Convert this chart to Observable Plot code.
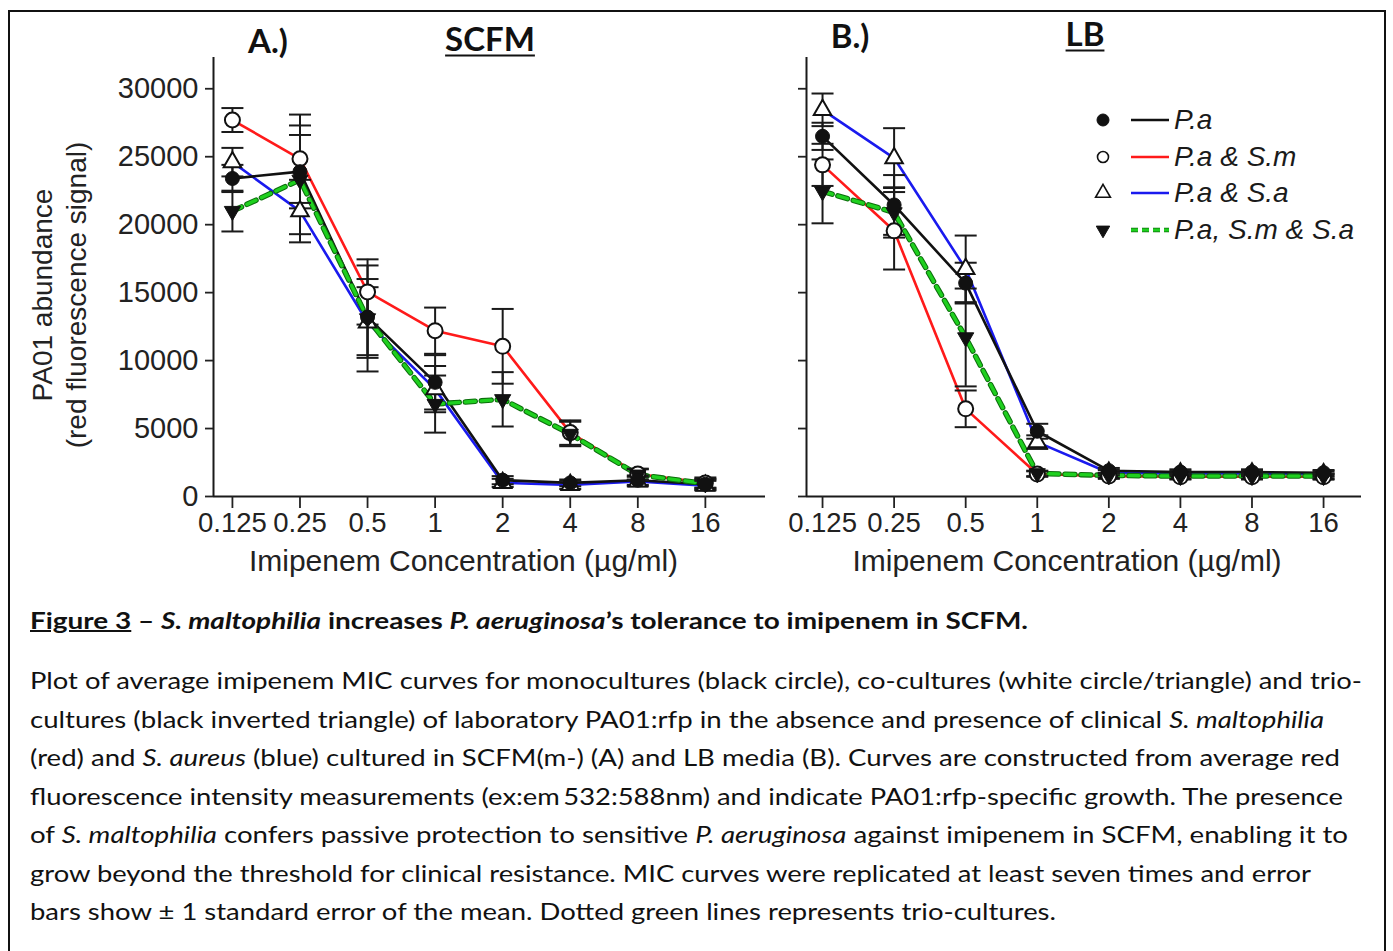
<!DOCTYPE html>
<html lang="en">
<head>
<meta charset="utf-8">
<title>Figure 3 – imipenem MIC curves</title>
<script src="https://cdn.jsdelivr.net/npm/d3@7"></script>
<script src="https://cdn.jsdelivr.net/npm/@observablehq/plot@0.6"></script>
<style>
  html, body { margin: 0; padding: 0; background: #fff; }
  body { position: relative; width: 1393px; height: 951px; overflow: hidden; font-family: "Liberation Sans", Arial, sans-serif; color: #111; }
  #frame { position: absolute; left: 8px; top: 10px; width: 1378px; height: 1000px; border: 2px solid #111; box-sizing: border-box; }
  .panel { position: absolute; top: 0; }
  .panel svg { overflow: visible; }
  .ptitle { position: absolute; transform: translate(-50%, -50%); font-family: Lato, "Open Sans", sans-serif; font-weight: 700; font-size: 33px; white-space: nowrap; line-height: 1; }
  .ptitle.u { text-decoration: underline; text-decoration-thickness: 2px; text-underline-offset: 4px; }
  #legend { position: absolute; left: 1090px; top: 101.6px; }
  .lrow { display: flex; align-items: center; height: 36.7px; }
  .lrow span { font-style: italic; font-size: 28px; margin-left: 2px; white-space: nowrap; color: #1a1a1a; }
  .cap { position: absolute; left: 30px; white-space: nowrap; font-family: Lato, "Open Sans", sans-serif; font-size: 23.5px; line-height: 1; transform-origin: 0 50%; }
  .cap.title { font-weight: 700; }
  .cap.title .u { text-decoration: underline; text-decoration-thickness: 1.5px; }
</style>
</head>
<body>
<div id="frame"></div>
<div id="panelA" class="panel" style="left:0"></div>
<div id="panelB" class="panel" style="left:790px"></div>

<div class="ptitle" style="left:268px;top:40px">A.)</div>
<div class="ptitle u" style="left:490px;top:38px">SCFM</div>
<div class="ptitle" style="left:850px;top:35px">B.)</div>
<div class="ptitle u" style="left:1085px;top:33px">LB</div>

<div id="legend"></div>

<div class="cap title fit" data-w="998" style="top:609px"><span class="u">Figure 3</span> – <i>S. maltophilia</i> increases <i>P. aeruginosa</i>’s tolerance to imipenem in SCFM.</div>
<div class="cap fit" data-w="1332" style="top:669px">Plot of average imipenem MIC curves for monocultures (black circle), co-cultures (white circle/triangle) and trio-</div>
<div class="cap fit" data-w="1294" style="top:708px">cultures (black inverted triangle) of laboratory PA01:rfp in the absence and presence of clinical <i>S. maltophilia</i></div>
<div class="cap fit" data-w="1310" style="top:746px">(red) and <i>S. aureus</i> (blue) cultured in SCFM(m-) (A) and LB media (B). Curves are constructed from average red</div>
<div class="cap fit" data-w="1313" style="top:785px">fluorescence intensity measurements (ex:em&#8201;532:588nm) and indicate PA01:rfp-specific growth. The presence</div>
<div class="cap fit" data-w="1318" style="top:823px">of <i>S. maltophilia</i> confers passive protection to sensitive <i>P. aeruginosa</i> against imipenem in SCFM, enabling it to</div>
<div class="cap fit" data-w="1281" style="top:862px">grow beyond the threshold for clinical resistance. MIC curves were replicated at least seven times and error</div>
<div class="cap fit" data-w="1026" style="top:900px">bars show ± 1 standard error of the mean. Dotted green lines represents trio-cultures.</div>

<script>
// Imipenem concentrations (µg/ml) and axis ticks
const conc = [0.125, 0.25, 0.5, 1, 2, 4, 8, 16];
const concLabels = ["0.125", "0.25", "0.5", "1", "2", "4", "8", "16"];
const abundanceTicks = [0, 5000, 10000, 15000, 20000, 25000, 30000];
const seriesNames = ["P.a", "P.a & S.m", "P.a & S.a", "P.a, S.m & S.a"];

// A.) SCFM – mean PA01 red fluorescence signal
const scfmPa      = [23400, 23900, 13200, 8400, 1200, 1000, 1200, 900];
const scfmPaSm    = [27700, 24850, 15050, 12200, 11050, 4700, 1650, 1000];
const scfmPaSa    = [24600, 21000, 12800, 7900, 1000, 850, 1100, 800];
const scfmTrio    = [21000, 23300, 13100, 6800, 7150, 4600, 1600, 950];
// A.) SCFM – ±1 standard error
const scfmPaSe    = [1000, 2700, 2800, 2000, 300, 250, 350, 400];
const scfmPaSmSe  = [880, 3250, 2400, 1700, 2750, 900, 400, 400];
const scfmPaSaSe  = [1050, 2300, 2600, 1700, 300, 300, 350, 350];
const scfmTrioSe  = [1500, 4000, 3900, 2100, 2000, 900, 400, 300];

// B.) LB – mean PA01 red fluorescence signal
const lbPa        = [26500, 21450, 15700, 4800, 1900, 1800, 1800, 1750];
const lbPaSm      = [24400, 19550, 6450, 1650, 1500, 1450, 1450, 1450];
const lbPaSa      = [28450, 24900, 16750, 4000, 1750, 1700, 1700, 1650];
const lbTrio      = [22450, 20900, 11700, 1700, 1550, 1500, 1500, 1500];
// B.) LB – ±1 standard error
const lbPaSe      = [1000, 2200, 1500, 550, 200, 200, 200, 200];
const lbPaSmSe    = [1550, 2850, 1350, 200, 200, 200, 200, 200];
const lbPaSaSe    = [1200, 2200, 2450, 500, 200, 200, 200, 200];
const lbTrioSe    = [2350, 1850, 3600, 200, 200, 200, 200, 200];

const seriesColor = {"P.a": "#111111", "P.a & S.m": "#ff1a1a", "P.a & S.a": "#1a1aee", "P.a, S.m & S.a": "#1fd01f"};

function tidy(means, sems) {
  return seriesNames.flatMap((series, k) =>
    conc.map((c, i) => ({series, conc: c, y: means[k][i], se: sems[k][i]})));
}
const scfmData = tidy([scfmPa, scfmPaSm, scfmPaSa, scfmTrio], [scfmPaSe, scfmPaSmSe, scfmPaSaSe, scfmTrioSe]);
const lbData = tidy([lbPa, lbPaSm, lbPaSa, lbTrio], [lbPaSe, lbPaSmSe, lbPaSaSe, lbTrioSe]);

// Custom symbols: downward triangle and a horizontal error-bar cap
const sqrt3 = Math.sqrt(3);
const triangleDown = {
  draw(context, size) {
    const y = Math.sqrt(size / (sqrt3 * 3));
    context.moveTo(0, 2 * y);
    context.lineTo(sqrt3 * y, -y);
    context.lineTo(-sqrt3 * y, -y);
    context.closePath();
  }
};
const capLine = {
  draw(context, size) {
    const r = Math.sqrt(size / Math.PI);
    context.moveTo(-r, 0);
    context.lineTo(r, 0);
  }
};

const markerStyle = {
  "P.a & S.a":      {symbol: "triangle", fill: "#fff", stroke: "#111", strokeWidth: 2, r: 6.5},
  "P.a & S.m":      {symbol: "circle", fill: "#fff", stroke: "#111", strokeWidth: 2, r: 7.5},
  "P.a, S.m & S.a": {symbol: triangleDown, fill: "#111", stroke: "#111", strokeWidth: 1, r: 6},
  "P.a":            {symbol: "circle", fill: "#111", stroke: "#111", strokeWidth: 1, r: 7}
};

function panel(data, opts) {
  const bySeries = (s) => data.filter((d) => d.series === s);
  const trio = bySeries("P.a, S.m & S.a");
  const xDomain = [conc[0] / 2 ** opts.padLo, conc[conc.length - 1] * 2 ** opts.padHi];
  const marks = [
    // axis lines
    Plot.ruleY([0], {stroke: "#1a1a1a", strokeWidth: 2}),
    Plot.ruleX([xDomain[0]], {stroke: "#1a1a1a", strokeWidth: 2}),
    Plot.axisX({ticks: conc, tickFormat: (d) => concLabels[conc.indexOf(d)], tickSize: 12, tickPadding: 4,
                strokeWidth: 1.8, color: "#222", fontSize: 27.5, label: null}),
    Plot.axisY({ticks: abundanceTicks, tickFormat: opts.yLabels ? (d) => String(d) : () => "",
                tickSize: 8, tickPadding: 7, strokeWidth: 1.8, color: "#222", label: null}),
    // curves
    ...["P.a & S.m", "P.a & S.a", "P.a"].map((s) =>
      Plot.line(bySeries(s), {x: "conc", y: "y", stroke: seriesColor[s], strokeWidth: 2.6})),
    Plot.line(trio, {x: "conc", y: "y", stroke: "#0c6e0c", strokeWidth: 5.5, strokeDasharray: "10,6"}),
    Plot.line(trio, {x: "conc", y: "y", stroke: seriesColor["P.a, S.m & S.a"], strokeWidth: 3.4, strokeDasharray: "10,6"}),
    // ±1 SEM error bars
    Plot.ruleX(data, {x: "conc", y1: (d) => d.y - d.se, y2: (d) => d.y + d.se, stroke: "#1a1a1a", strokeWidth: 2}),
    Plot.dot(data, {x: "conc", y: (d) => d.y + d.se, symbol: capLine, r: 11, fill: "none", stroke: "#1a1a1a", strokeWidth: 2}),
    Plot.dot(data, {x: "conc", y: (d) => d.y - d.se, symbol: capLine, r: 11, fill: "none", stroke: "#1a1a1a", strokeWidth: 2}),
    // markers
    ...Object.entries(markerStyle).map(([s, st]) => Plot.dot(bySeries(s), {x: "conc", y: "y", ...st})),
    // x-axis title
    Plot.text(["Imipenem Concentration (µg/ml)"], {frameAnchor: "bottom", lineAnchor: "middle", dx: opts.xTitleDx, dy: 65,
                fontSize: 30, fill: "#222"})
  ];
  if (opts.yTitle) {
    marks.push(Plot.text([opts.yTitle], {frameAnchor: "left", textAnchor: "middle", lineAnchor: "middle", rotate: -90,
                dx: -155.5, dy: 18, lineHeight: 1.22, fontSize: 28, fill: "#222"}));
  }
  return Plot.plot({
    width: opts.width, height: 590,
    marginLeft: opts.marginLeft, marginRight: opts.marginRight, marginTop: 57, marginBottom: 94,
    style: {fontFamily: "'Liberation Sans', Arial, sans-serif", fontSize: "29px", background: "transparent", overflow: "visible"},
    x: {type: "log", base: 2, domain: xDomain},
    y: {domain: [0, 32300]},
    marks
  });
}

document.getElementById("panelA").append(panel(scfmData, {
  width: 790, marginLeft: 213, marginRight: 25, padLo: 0.28, padHi: 0.89, yLabels: true,
  xTitleDx: -26, yTitle: "PA01 abundance\n(red fluorescence signal)"
}));
document.getElementById("panelB").append(panel(lbData, {
  width: 603, marginLeft: 16, marginRight: 32, padLo: 0.224, padHi: 0.53, yLabels: false,
  xTitleDx: -17
}));

// Legend: marker, line sample and italic series name
const legend = d3.select("#legend");
seriesNames.forEach((s) => {
  const row = legend.append("div").attr("class", "lrow");
  const svg = row.append("svg").attr("width", 82).attr("height", 36);
  const st = markerStyle[s];
  const sym = typeof st.symbol === "string"
    ? (st.symbol === "circle" ? d3.symbolCircle : d3.symbolTriangle) : st.symbol;
  const r = s === "P.a" ? 6 : s === "P.a & S.m" ? 5.5 : s === "P.a & S.a" ? 5.5 : 5;
  svg.append("path")
    .attr("transform", "translate(13,18)")
    .attr("d", d3.symbol(sym, Math.PI * r * r)())
    .attr("fill", st.fill).attr("stroke", st.stroke).attr("stroke-width", s === "P.a & S.m" || s === "P.a & S.a" ? 1.6 : 1);
  if (s === "P.a, S.m & S.a") {
    svg.append("line").attr("x1", 41).attr("x2", 79).attr("y1", 18).attr("y2", 18)
      .attr("stroke", "#0c6e0c").attr("stroke-width", 4.5).attr("stroke-dasharray", "7,4");
    svg.append("line").attr("x1", 41).attr("x2", 79).attr("y1", 18).attr("y2", 18)
      .attr("stroke", seriesColor[s]).attr("stroke-width", 2.8).attr("stroke-dasharray", "7,4");
  } else {
    svg.append("line").attr("x1", 41).attr("x2", 79).attr("y1", 18).attr("y2", 18)
      .attr("stroke", seriesColor[s]).attr("stroke-width", 2.6);
  }
  row.append("span").text(s);
});

// Fit each caption line to its typeset width
function fitLines() {
  document.querySelectorAll(".fit").forEach((el) => {
    el.style.transform = "none";
    const w = el.getBoundingClientRect().width;
    el.style.transform = `scaleX(${+el.dataset.w / w})`;
  });
}
fitLines();
if (document.fonts && document.fonts.ready) document.fonts.ready.then(fitLines);
</script>
</body>
</html>
